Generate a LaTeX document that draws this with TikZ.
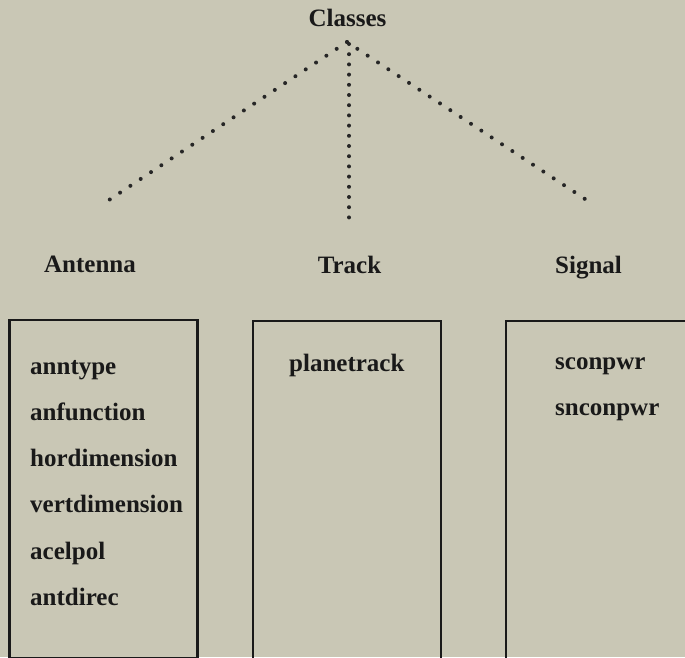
\documentclass[tikz,border=0pt]{standalone}
\usepackage{fontspec}
\setmainfont{Liberation Serif}
\begin{document}
\begin{tikzpicture}[x=1pt,y=-1pt,
  lbl/.style={font=\fontsize{25}{30}\selectfont\bfseries, text=black!90, inner sep=0pt, anchor=base},
  item/.style={lbl, anchor=base west},
  classbox/.style={draw=black!90, line width=2.5pt, minimum width=188pt, minimum height=338pt, inner sep=0pt},
  dots/.style={draw=black!85, line width=4pt, line cap=round, dash pattern=on 0pt off 12.38pt},
  vdots/.style={dots, dash pattern=on 0pt off 10.2pt}]
  % page and paper tone
  \useasboundingbox (0,0) rectangle (685,657);
  \clip (0,0) rectangle (685,657);
  \fill[fill={rgb,255:red,201;green,199;blue,181}] (0,0) rectangle (685,657);

  % root and branch ends
  \node[lbl] (classes) at (347.5,26.7) {Classes};
  \coordinate (apex) at (347,42);
  \coordinate (endL) at (109,200);
  \coordinate (endM) at (349,218);
  \coordinate (endR) at (585,199);
  \coordinate (topM) at (349,44);
  \draw[dots] (apex) -- (endL);
  \draw[dots] (apex) -- (endR);
  \draw[vdots] (topM) -- (endM);

  % class titles
  \node[lbl] (antenna) at (90,272.7) {Antenna};
  \node[lbl] (track) at (349.5,273.3) {Track};
  \node[lbl] (signal) at (588.5,273.3) {Signal};

  % attribute boxes
  \node[classbox] (boxA) at (103.5,489) {};
  \node[classbox] (boxT) at (347,490) {};
  \node[classbox] (boxS) at (600,490) {};

  % Antenna attributes
  \node[item] (a1) at (30,374) {anntype};
  \node[item] (a2) at (30,420) {anfunction};
  \node[item] (a3) at (30,466) {hordimension};
  \node[item] (a4) at (30,512.7) {vertdimension};
  \node[item] (a5) at (30,559) {acelpol};
  \node[item] (a6) at (30,605) {antdirec};

  % Track attributes
  \node[item] (t1) at (289,371.7) {planetrack};

  % Signal attributes
  \node[item] (s1) at (555,369) {sconpwr};
  \node[item] (s2) at (555,415) {snconpwr};
\end{tikzpicture}
\end{document}
